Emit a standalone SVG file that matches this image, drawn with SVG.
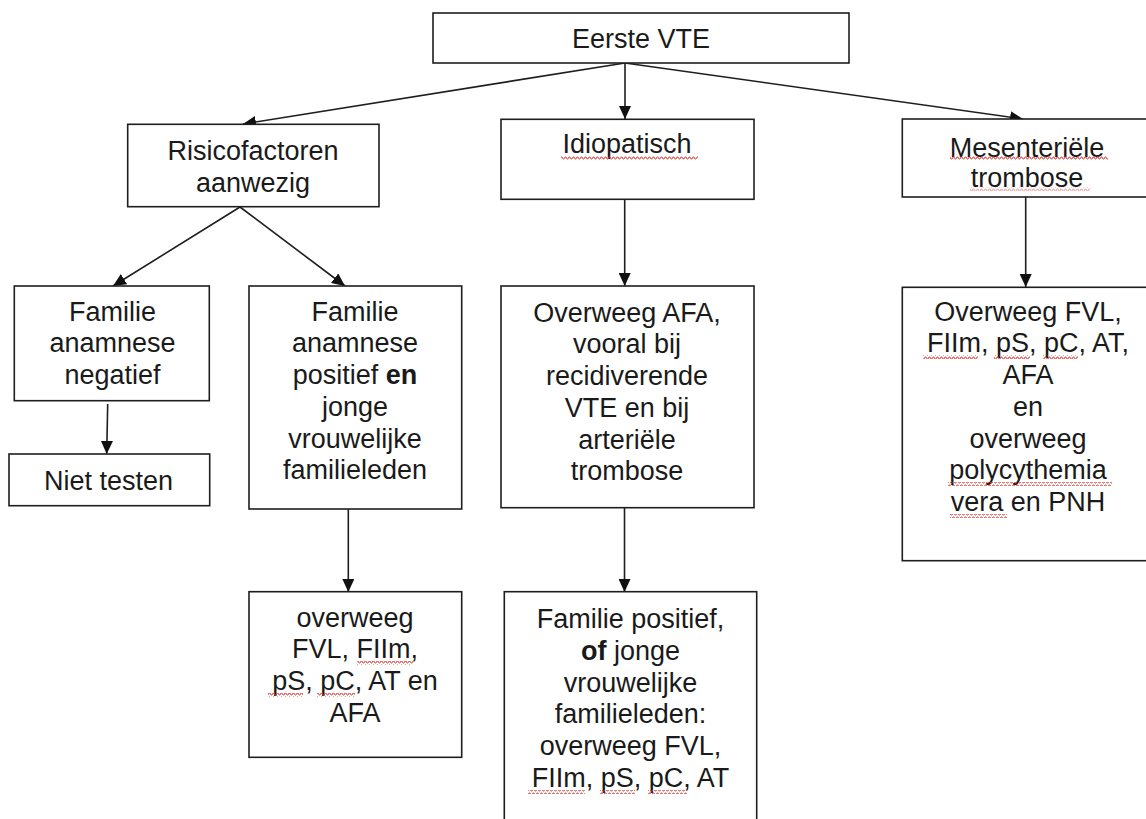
<svg xmlns="http://www.w3.org/2000/svg" width="1146" height="819" viewBox="0 0 1146 819">
<style>
.box{fill:#fff;stroke:#1e1e1e;stroke-width:1.6}
.t{font-family:"Liberation Sans",Arial,sans-serif;font-size:27px;fill:#1a1a1a;text-anchor:middle}
.b{font-weight:bold}
.c{fill:none;stroke:#1e1e1e;stroke-width:1.6}
.sq{fill:url(#squig)}
</style>
<defs>
<marker id="ah" markerUnits="userSpaceOnUse" markerWidth="14" markerHeight="12" refX="13" refY="6" orient="auto">
<path d="M0,0 L13,6 L0,12 Z" fill="#111"/>
</marker>
<pattern id="squig" patternUnits="userSpaceOnUse" width="4" height="4">
<path d="M0,3 L1,1 L2,1 L3,3 L4,3" fill="none" stroke="#e0302a" stroke-width="0.9"/>
</pattern>
</defs>
<rect width="1146" height="819" fill="#fff"/>
<g id="connectors">
<line class="c" x1="625" y1="63" x2="625" y2="119" marker-end="url(#ah)"/>
<line class="c" x1="625" y1="63" x2="243" y2="124" marker-end="url(#ah)"/>
<line class="c" x1="625" y1="63" x2="1023" y2="119" marker-end="url(#ah)"/>
<line class="c" x1="240" y1="207" x2="113" y2="286" marker-end="url(#ah)"/>
<line class="c" x1="240" y1="207" x2="345" y2="286" marker-end="url(#ah)"/>
<line class="c" x1="107.7" y1="404" x2="106.7" y2="454" marker-end="url(#ah)"/>
<line class="c" x1="348.3" y1="509" x2="348.3" y2="592" marker-end="url(#ah)"/>
<line class="c" x1="624.7" y1="199" x2="624.7" y2="286" marker-end="url(#ah)"/>
<line class="c" x1="624.5" y1="508" x2="624.5" y2="592" marker-end="url(#ah)"/>
<line class="c" x1="1025.7" y1="197" x2="1025.7" y2="287" marker-end="url(#ah)"/>
</g>
<g id="eerste-vte">
<rect class="box" x="433" y="13" width="416" height="50"/>
<text class="t" x="641" y="48">Eerste VTE</text>
</g>
<g id="risicofactoren">
<rect class="box" x="127.7" y="124.3" width="251.3" height="82.4"/>
<text class="t" x="253" y="160">Risicofactoren</text>
<text class="t" x="253" y="191.7">aanwezig</text>
</g>
<g id="idiopatisch">
<rect class="box" x="501" y="119.3" width="253" height="80"/>
<text class="t" x="627" y="153.3">Idiopatisch</text>
<rect class="sq" x="561" y="156" width="137" height="4"/>
</g>
<g id="mesenteriele">
<rect class="box" x="902.3" y="119" width="260" height="78"/>
<text class="t" x="1027" y="157">Mesenteriële</text>
<text class="t" x="1027" y="186.7">trombose</text>
<rect class="sq" x="950" y="156" width="158" height="4"/>
<rect class="sq" x="970" y="187" width="120" height="4" opacity="0.5"/>
</g>
<g id="fam-negatief">
<rect class="box" x="14.3" y="286" width="195" height="114.7"/>
<text class="t" x="112.5" y="320.7">Familie</text>
<text class="t" x="112.5" y="352.4">anamnese</text>
<text class="t" x="112.5" y="384.1">negatief</text>
</g>
<g id="niet-testen">
<rect class="box" x="9" y="454" width="200.7" height="51.7"/>
<text class="t" x="108.5" y="490">Niet testen</text>
</g>
<g id="fam-positief">
<rect class="box" x="249" y="286" width="212.7" height="223"/>
<text class="t" x="355" y="320.7">Familie</text>
<text class="t" x="355" y="352.4">anamnese</text>
<text class="t" x="355" y="384.1">positief <tspan class="b">en</tspan></text>
<text class="t" x="355" y="415.8">jonge</text>
<text class="t" x="355" y="447.5">vrouwelijke</text>
<text class="t" x="355" y="479.2">familieleden</text>
</g>
<g id="overweeg-afa">
<rect class="box" x="501" y="286" width="253" height="221.7"/>
<text class="t" x="627" y="321.7">Overweeg AFA,</text>
<text class="t" x="627" y="353.4">vooral bij</text>
<text class="t" x="627" y="385.1">recidiverende</text>
<text class="t" x="627" y="416.8">VTE en bij</text>
<text class="t" x="627" y="448.5">arteriële</text>
<text class="t" x="627" y="480.2">trombose</text>
</g>
<g id="overweeg-fvl-mes">
<rect class="box" x="902.3" y="287.3" width="260" height="273.4"/>
<text class="t" x="1028" y="320.7">Overweeg FVL,</text>
<text class="t" x="1028" y="352.4">FIIm, pS, pC, AT,</text>
<text class="t" x="1028" y="384.1">AFA</text>
<text class="t" x="1028" y="415.8">en</text>
<text class="t" x="1028" y="447.5">overweeg</text>
<text class="t" x="1028" y="479.2">polycythemia</text>
<text class="t" x="1028" y="510.9">vera en PNH</text>
<rect class="sq" x="923" y="355" width="55" height="4"/>
<rect class="sq" x="994" y="355" width="36" height="4"/>
<rect class="sq" x="1043" y="355" width="35" height="4"/>
<rect class="sq" x="948" y="482" width="164" height="4"/>
<rect class="sq" x="950" y="514" width="57" height="4"/>
</g>
<g id="overweeg-fvl-pos">
<rect class="box" x="249" y="591.7" width="212.7" height="165.6"/>
<text class="t" x="355" y="626.7">overweeg</text>
<text class="t" x="355" y="658.4">FVL, FIIm,</text>
<text class="t" x="355" y="690.1">pS, pC, AT en</text>
<text class="t" x="355" y="721.8">AFA</text>
<rect class="sq" x="357" y="661" width="56" height="4"/>
<rect class="sq" x="268" y="693" width="35" height="4"/>
<rect class="sq" x="317" y="693" width="38" height="4"/>
</g>
<g id="familie-positief-of">
<rect class="box" x="504.3" y="591.7" width="252.4" height="240"/>
<text class="t" x="630.5" y="628.3">Familie positief,</text>
<text class="t" x="630.5" y="660"><tspan class="b">of</tspan> jonge</text>
<text class="t" x="630.5" y="691.7">vrouwelijke</text>
<text class="t" x="630.5" y="723.4">familieleden:</text>
<text class="t" x="630.5" y="755.1">overweeg FVL,</text>
<text class="t" x="630.5" y="786.8">FIIm, pS, pC, AT</text>
<rect class="sq" x="528" y="790" width="57" height="4"/>
<rect class="sq" x="600" y="790" width="35" height="4"/>
<rect class="sq" x="648" y="790" width="39" height="4"/>
</g>
</svg>
